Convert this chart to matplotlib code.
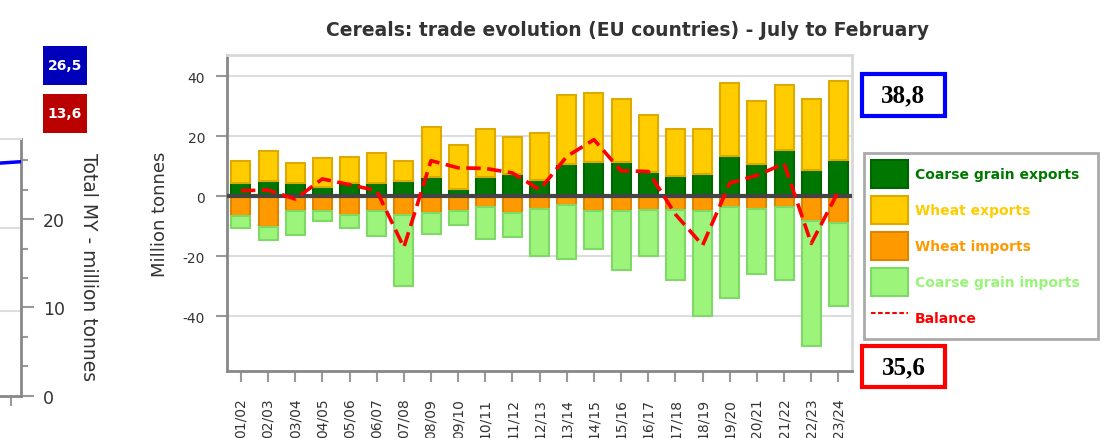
import matplotlib
matplotlib.use("Agg")
import matplotlib.pyplot as plt
from matplotlib.patches import Patch, Rectangle
from matplotlib.lines import Line2D
from matplotlib.ticker import MultipleLocator

plt.rcParams['font.family'] = ['DejaVu Sans']
plt.rcParams['axes.unicode_minus'] = False

# ---------------- data ----------------
seasons = ['01/02', '02/03', '03/04', '04/05', '05/06', '06/07', '07/08', '08/09',
           '09/10', '10/11', '11/12', '12/13', '13/14', '14/15', '15/16', '16/17',
           '17/18', '18/19', '19/20', '20/21', '21/22', '22/23', '23/24']
coarse_exports = [4.4, 5.0, 4.4, 3.2, 4.4, 4.4, 5.0, 6.6, 2.4, 6.6, 7.4, 5.6,
                  10.9, 11.6, 11.6, 8.2, 6.9, 7.6, 13.6, 10.9, 15.6, 8.9, 12.2]
wheat_exports = [7.5, 10.2, 6.8, 9.5, 8.8, 10.2, 6.9, 16.6, 14.8, 15.9, 12.3, 15.4,
                 22.8, 22.7, 20.7, 18.8, 15.4, 14.7, 24.1, 20.8, 21.4, 23.4, 26.4]
wheat_imports = [-6.7, -10.1, -4.8, -4.8, -6.1, -4.8, -6.1, -5.4, -4.8, -3.4, -5.6, -4.2,
                 -2.9, -5.0, -5.0, -4.4, -4.4, -4.9, -3.6, -4.2, -3.6, -8.3, -8.9]
coarse_imports = [-4.0, -4.6, -8.0, -3.3, -4.6, -8.5, -23.9, -7.3, -4.6, -10.7, -8.0, -15.8,
                  -18.0, -12.6, -19.7, -15.6, -23.6, -35.1, -30.4, -21.8, -24.4, -41.6, -27.6]
balance = [1.9, 2.1, -0.9, 5.8, 3.9, 1.9, -17.0, 11.9, 9.5, 9.3, 7.8, 2.2,
           13.3, 18.9, 8.5, 8.3, -6.0, -16.3, 4.4, 7.0, 10.9, -15.7, 1.7]

box_exports = '38,8'
box_imports = '35,6'

# left (cropped) chart
left_x = [8.0, 9.0, 10.0]
left_total = [26.3, 26.4, 26.5]
left_grid = [9.6, 19.0]
left_box_top = '26,5'
left_box_bottom = '13,6'

# ---------------- styles ----------------
C_CE, E_CE = '#007700', '#006400'
C_WE, E_WE = '#FFCC00', '#DDAA00'
C_WI, E_WI = '#FF9900', '#DD8400'
C_CI, E_CI = '#9CF57A', '#80D866'

W, H = 1112, 439
fig = plt.figure(figsize=(W / 100, H / 100), dpi=100)

def fx(px):
    return px / W

def fy(py):
    return 1 - py / H

# ---------------- main chart ----------------
ax = fig.add_axes([fx(227.3), fy(372.3), fx(852) - fx(227.3), fy(55.7) - fy(372.3)])
x = list(range(len(seasons)))
bw = 0.7
ax.bar(x, coarse_exports, bw, color=C_CE, edgecolor=E_CE, linewidth=1.5, zorder=3)
ax.bar(x, wheat_exports, bw, bottom=coarse_exports, color=C_WE, edgecolor=E_WE,
       linewidth=1.5, zorder=3)
ax.bar(x, wheat_imports, bw, color=C_WI, edgecolor=E_WI, linewidth=1.5, zorder=3)
ax.bar(x, coarse_imports, bw, bottom=wheat_imports, color=C_CI, edgecolor=E_CI,
       linewidth=1.5, zorder=3)
ax.axhline(0, color='#444444', lw=3, zorder=4)
ax.plot(x, balance, color='#FF0000', lw=2.6, dashes=(4, 1.8), zorder=5)

ax.set_xlim(-0.5, len(seasons) - 0.5)
ax.set_ylim(-58.3, 47.2)
ax.yaxis.set_major_locator(MultipleLocator(20))
ax.set_xticks(x)
ax.set_xticklabels(seasons, rotation=90, fontsize=10, color='#333333')
ax.tick_params(axis='y', labelsize=10, labelcolor='#333333', length=8, width=1.5,
               color='#999999', pad=8)
ax.tick_params(axis='x', length=8, width=1.5, color='#999999', pad=11)
ax.grid(axis='y', color='#DDDDDD', lw=1.5, zorder=0)
ax.set_axisbelow(True)
for s in ['left', 'bottom']:
    ax.spines[s].set_color('#888888')
    ax.spines[s].set_linewidth(2)
for s in ['top', 'right']:
    ax.spines[s].set_color('#D8D8D8')
    ax.spines[s].set_linewidth(2)
ax.set_ylabel('Million tonnes', fontsize=13, color='#333333')
ax.yaxis.set_label_coords(-0.093, 0.5)

fig.text(fx(627.5), fy(30), 'Cereals: trade evolution (EU countries) - July to February',
         ha='center', va='center', fontsize=13.5, fontweight='bold', color='#333333')

# legend
handles = [Patch(facecolor=C_CE, edgecolor=E_CE, lw=1.5),
           Patch(facecolor=C_WE, edgecolor=E_WE, lw=1.5),
           Patch(facecolor=C_WI, edgecolor=E_WI, lw=1.5),
           Patch(facecolor=C_CI, edgecolor=E_CI, lw=1.5),
           Line2D([], [], color='#FF0000', lw=1.5, dashes=(2.2, 1.2))]
labels = ['Coarse grain exports', 'Wheat exports', 'Wheat imports',
          'Coarse grain imports', 'Balance']
text_colors = ['#007700', '#FFCC00', '#FF9900', '#99F577', '#FF0000']
fig.patches.append(Rectangle((fx(864), fy(340)), fx(1098) - fx(864), fy(154) - fy(340),
                             transform=fig.transFigure, fc='white', ec='#AAAAAA', lw=2))
leg = fig.legend(handles, labels, loc='upper left',
                 bbox_to_anchor=(fx(864), fy(154)), bbox_transform=fig.transFigure,
                 prop={'size': 10, 'weight': 'bold'}, handlelength=2.7, handleheight=2.72,
                 labelspacing=0.58, handletextpad=0.45, borderpad=0.5, borderaxespad=0,
                 frameon=False)
for t, c in zip(leg.get_texts(), text_colors):
    t.set_color(c)

# value boxes on the right
fig.patches.append(Rectangle((fx(862), fy(117)), fx(945) - fx(862), fy(75) - fy(117),
                             transform=fig.transFigure, fc='white', ec='#0000FF', lw=3))
fig.text(fx(903.5), fy(96), box_exports, ha='center', va='center', fontsize=18,
         fontweight='bold', family='Liberation Serif', color='black')
fig.patches.append(Rectangle((fx(862), fy(388)), fx(945) - fx(862), fy(347) - fy(388),
                             transform=fig.transFigure, fc='white', ec='#FF0000', lw=3))
fig.text(fx(903.5), fy(367.5), box_imports, ha='center', va='center', fontsize=18,
         fontweight='bold', family='Liberation Serif', color='black')

# ---------------- left cropped chart ----------------
axl = fig.add_axes([fx(-111), fy(396.7), fx(21) - fx(-111), fy(140) - fy(396.7)])
axl.set_xlim(0, 10)
axl.set_ylim(0, 29.07)
for g in left_grid:
    axl.axhline(g, color='#DDDDDD', lw=1.5, zorder=0)
axl.plot(left_x, left_total, color='#0000FF', lw=2.5, zorder=3)
axl.yaxis.tick_right()
axl.yaxis.set_major_locator(MultipleLocator(10))
axl.yaxis.set_minor_locator(MultipleLocator(10 / 3))
axl.tick_params(axis='y', which='major', labelsize=12.5, labelcolor='#333333', length=9,
                width=1.5, color='#999999', pad=7)
axl.tick_params(axis='y', which='minor', length=5, width=1.5, color='#999999')
axl.set_xticks([9.25])
axl.set_xticklabels([])
axl.tick_params(axis='x', length=7, width=1.5, color='#999999')
axl.spines['left'].set_visible(False)
axl.spines['right'].set_color('#888888')
axl.spines['right'].set_linewidth(2)
axl.spines['bottom'].set_color('#888888')
axl.spines['bottom'].set_linewidth(2)
axl.spines['top'].set_color('#DDDDDD')
axl.spines['top'].set_linewidth(1.5)
fig.text(fx(88.5), fy(267.5), 'Total MY - million tonnes', rotation=270,
         ha='center', va='center', fontsize=13.5, color='#333333')

fig.patches.append(Rectangle((fx(43), fy(86)), fx(87) - fx(43), fy(47) - fy(86),
                             transform=fig.transFigure, fc='#0000BB', ec='none'))
fig.text(fx(65), fy(66.5), left_box_top, ha='center', va='center', fontsize=10,
         fontweight='bold', color='white')
fig.patches.append(Rectangle((fx(43), fy(134)), fx(87) - fx(43), fy(95) - fy(134),
                             transform=fig.transFigure, fc='#BB0000', ec='none'))
fig.text(fx(65), fy(114.5), left_box_bottom, ha='center', va='center', fontsize=10,
         fontweight='bold', color='white')

fig.savefig('out.png', dpi=100)
